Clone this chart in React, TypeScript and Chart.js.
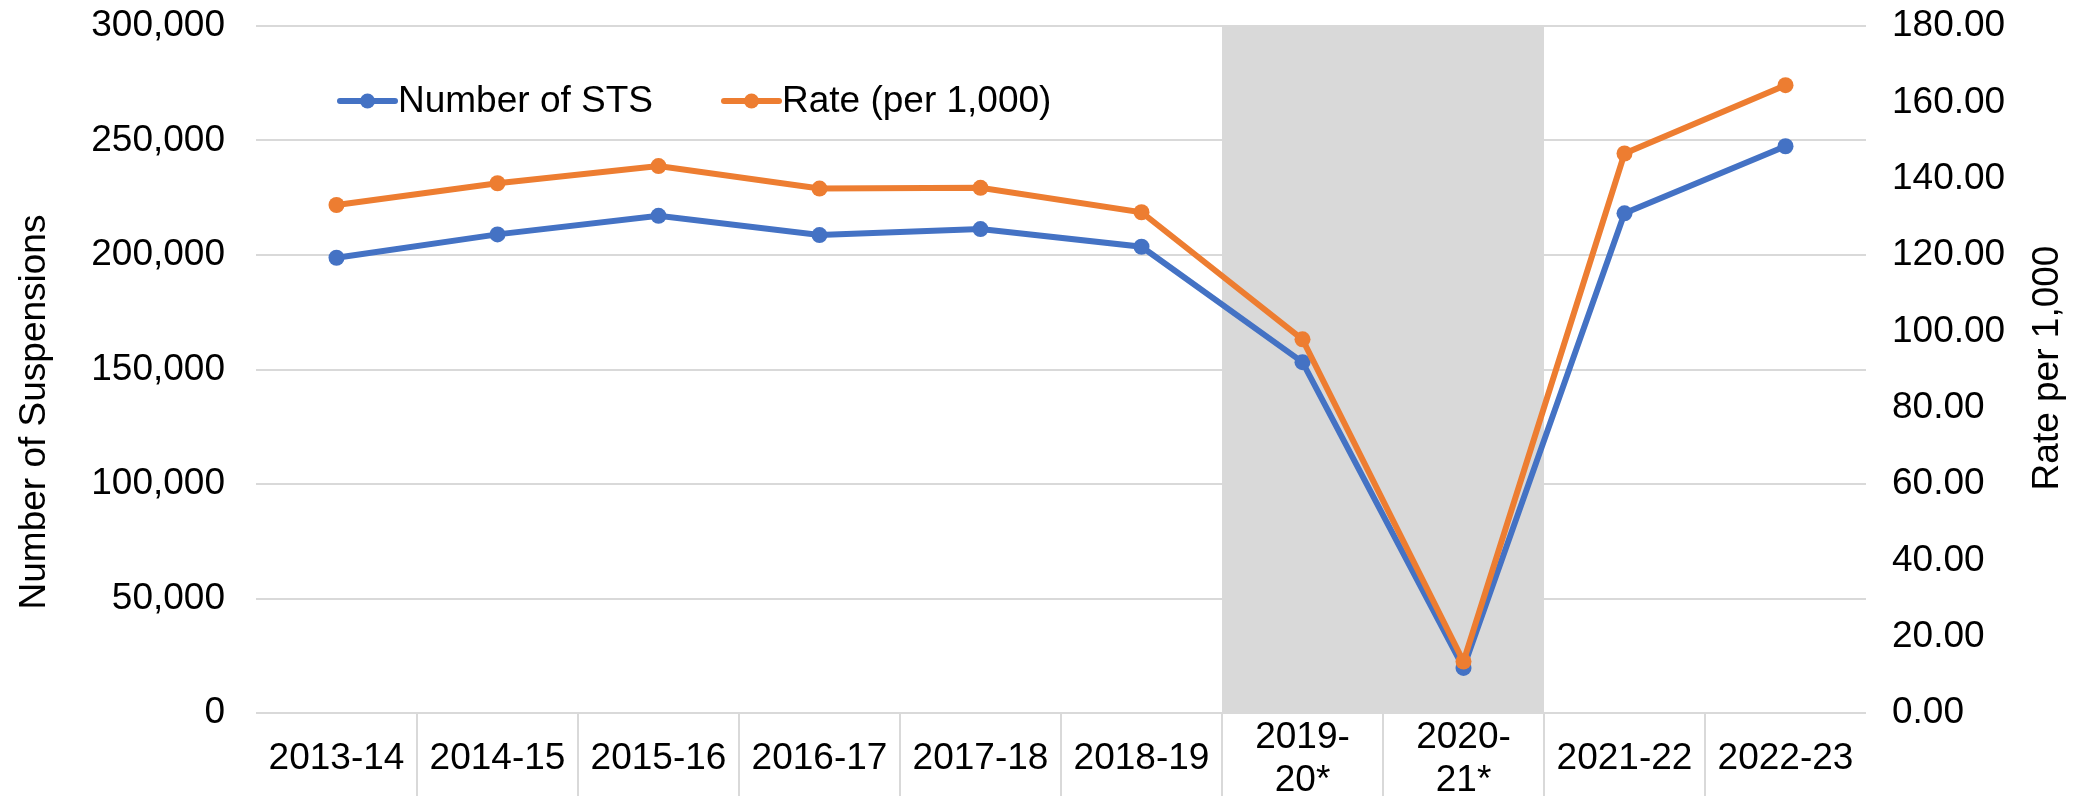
import React, { useEffect, useRef } from "react";
import { Chart, registerables } from "chart.js";

Chart.register(...registerables);

const categories = [
  "2013-14",
  "2014-15",
  "2015-16",
  "2016-17",
  "2017-18",
  "2018-19",
  "2019-20*",
  "2020-21*",
  "2021-22",
  "2022-23",
];

const numberOfSTS = [198800, 209000, 217100, 208700, 211300, 203600, 153200, 19700, 218200, 247500];
const ratePer1000 = [133.1, 138.8, 143.3, 137.4, 137.6, 131.2, 97.9, 13.5, 146.6, 164.5];

const shadedCategories = ["2019-20*", "2020-21*"];

const leftTicks = [0, 50000, 100000, 150000, 200000, 250000, 300000];
const rightTicks = [0, 20, 40, 60, 80, 100, 120, 140, 160, 180];

const seriesLabels = ["Number of STS", "Rate (per 1,000)"];
const leftTitle = "Number of Suspensions";
const rightTitle = "Rate per 1,000";

const BLUE = "#4472C4";
const ORANGE = "#ED7D31";
const GRID = "#D9D9D9";
const FONT = "'Liberation Sans', Arial, sans-serif";

const shadePlugin = {
  id: "shade",
  beforeDatasetsDraw(chart: any) {
    const x = chart.scales.x;
    const area = chart.chartArea;
    const ctx = chart.ctx;
    const idx = shadedCategories.map((c) => categories.indexOf(c)).filter((i) => i >= 0);
    if (!idx.length) return;
    const half = (x.getPixelForValue(1) - x.getPixelForValue(0)) / 2;
    const x0 = x.getPixelForValue(Math.min(...idx)) - half;
    const x1 = x.getPixelForValue(Math.max(...idx)) + half;
    ctx.save();
    ctx.fillStyle = "#D9D9D9";
    ctx.fillRect(x0, area.top, x1 - x0, area.bottom - area.top - 1);
    ctx.restore();
  },
};

const decorPlugin = {
  id: "decor",
  afterDraw(chart: any) {
    const ctx = chart.ctx;
    ctx.save();
    ctx.fillStyle = "#000";
    ctx.font = `37px ${FONT}`;
    ctx.textAlign = "center";
    ctx.textBaseline = "middle";
    ctx.save();
    ctx.translate(35, 412);
    ctx.rotate(-Math.PI / 2);
    ctx.fillText(leftTitle, 0, 0);
    ctx.restore();
    ctx.save();
    ctx.translate(2048, 368);
    ctx.rotate(-Math.PI / 2);
    ctx.fillText(rightTitle, 0, 0);
    ctx.restore();

    // legend
    const colors = [BLUE, ORANGE];
    const starts = [340, 724];
    const ly = 101;
    ctx.font = `37px ${FONT}`;
    ctx.textAlign = "left";
    ctx.textBaseline = "middle";
    seriesLabels.forEach((lab, i) => {
      const sx = starts[i];
      ctx.strokeStyle = colors[i];
      ctx.lineWidth = 6;
      ctx.lineCap = "round";
      ctx.beginPath();
      ctx.moveTo(sx, ly);
      ctx.lineTo(sx + 55, ly);
      ctx.stroke();
      ctx.fillStyle = colors[i];
      ctx.beginPath();
      ctx.arc(sx + 27.5, ly, 7.5, 0, Math.PI * 2);
      ctx.fill();
      ctx.fillStyle = "#000";
      ctx.fillText(lab, sx + 58, ly + 1);
    });
    ctx.restore();
  },
};

export default function App() {
  const ref = useRef<HTMLCanvasElement | null>(null);

  useEffect(() => {
    document.body.style.margin = "0";
    if (!ref.current) return;
    const chart = new Chart(ref.current, {
      type: "line",
      data: {
        labels: categories,
        datasets: [
          {
            label: seriesLabels[0],
            data: numberOfSTS,
            yAxisID: "y",
            borderColor: BLUE,
            backgroundColor: BLUE,
            pointBackgroundColor: BLUE,
            pointBorderColor: BLUE,
            borderWidth: 6,
            pointRadius: 8,
            pointBorderWidth: 0,
            tension: 0,
            order: 2,
          },
          {
            label: seriesLabels[1],
            data: ratePer1000,
            yAxisID: "y1",
            borderColor: ORANGE,
            backgroundColor: ORANGE,
            pointBackgroundColor: ORANGE,
            pointBorderColor: ORANGE,
            borderWidth: 6,
            pointRadius: 8,
            pointBorderWidth: 0,
            tension: 0,
            order: 1,
          },
        ],
      },
      options: {
        responsive: false,
        animation: false,
        devicePixelRatio: 1,
        layout: { padding: { top: 26, left: 0, right: 0, bottom: 0 } },
        plugins: {
          legend: { display: false },
          tooltip: { enabled: false },
        },
        scales: {
          x: {
            type: "category",
            offset: true,
            border: { display: false },
            grid: {
              offset: true,
              drawOnChartArea: false,
              drawTicks: true,
              tickLength: 83,
              lineWidth: 2,
              color: (ctx: any) =>
                ctx.type !== "tick" || ctx.index === 0 ? "rgba(0,0,0,0)" : GRID,
            },
            ticks: {
              autoSkip: false,
              maxRotation: 0,
              minRotation: 0,
              padding: -58,
              crossAlign: "center",
              color: "#000",
              font: { family: FONT, size: 37, lineHeight: 1.15 },
              callback: (_v: any, i: number) => {
                const c = categories[i];
                if (c.includes("*")) {
                  const k = c.indexOf("-") + 1;
                  return [c.slice(0, k), c.slice(k)];
                }
                return c;
              },
            },
            afterFit: (s: any) => {
              s.height = 83;
              s.paddingLeft = 0;
              s.paddingRight = 0;
            },
          },
          y: {
            type: "linear",
            position: "left",
            min: leftTicks[0],
            max: leftTicks[leftTicks.length - 1],
            border: { display: false },
            grid: { color: GRID, lineWidth: 2, drawTicks: false },
            afterBuildTicks: (s: any) => {
              s.ticks = leftTicks.map((v) => ({ value: v }));
            },
            ticks: {
              padding: 31,
              color: "#000",
              font: { family: FONT, size: 37 },
              callback: (v: any) => Number(v).toLocaleString("en-US"),
            },
            afterFit: (s: any) => {
              s.width = 256;
              s.paddingTop = 0;
              s.paddingBottom = 0;
            },
          },
          y1: {
            type: "linear",
            position: "right",
            min: rightTicks[0],
            max: rightTicks[rightTicks.length - 1],
            border: { display: false },
            grid: { display: false, drawTicks: false },
            afterBuildTicks: (s: any) => {
              s.ticks = rightTicks.map((v) => ({ value: v }));
            },
            ticks: {
              padding: 26,
              color: "#000",
              font: { family: FONT, size: 37 },
              callback: (v: any) => Number(v).toFixed(2),
            },
            afterFit: (s: any) => {
              s.width = 215;
              s.paddingTop = 0;
              s.paddingBottom = 0;
            },
          },
        },
      },
      plugins: [shadePlugin, decorPlugin],
    } as any);
    return () => chart.destroy();
  }, []);

  return (
    <div style={{ width: 2081, height: 796 }}>
      <canvas ref={ref} width={2081} height={796} style={{ display: "block" }} />
    </div>
  );
}
